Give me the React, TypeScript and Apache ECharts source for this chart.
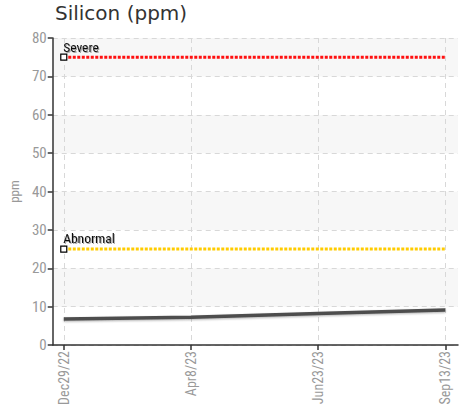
import React, { useEffect, useRef } from "react";
import * as echarts from "echarts";

const categories = ["Dec29/22", "Apr8/23", "Jun23/23", "Sep13/23"];
const siliconValues = [6.8, 7.2, 8.2, 9.1];
const severeLevel = 75;
const abnormalLevel = 25;
const yTicks = [0, 10, 20, 30, 40, 50, 60, 70, 80];

const cond = "'Roboto Condensed', 'DejaVu Sans Condensed', sans-serif";

export default function App() {
  const ref = useRef<HTMLDivElement>(null);
  useEffect(() => {
    if (!ref.current) return;
    const chart = echarts.init(ref.current, undefined, { renderer: "svg" });
    const idx = categories.map((_, i) => i);
    const last = categories.length - 1;
    const threshold = (name: string, level: number, color: string) => ({
      type: "line",
      name,
      data: [
        {
          value: [0, level],
          symbol: "rect",
          symbolSize: 6,
          itemStyle: { color: "#fff", borderColor: "#000", borderWidth: 1.2 },
          label: {
            show: true,
            formatter: name,
            position: [3, -14],
            align: "left",
            verticalAlign: "top",
            fontFamily: cond,
            fontSize: 13.5,
            color: "#111",
            textShadowColor: "rgba(0,0,0,0.35)",
            textShadowBlur: 1,
            textShadowOffsetX: 1,
            textShadowOffsetY: 1,
          },
        },
        { value: [last, level], symbol: "none" },
      ],
      lineStyle: { color, width: 3, type: [3, 1.5] },
      z: 3,
    });
    chart.setOption({
      animation: false,
      title: {
        text: "Silicon (ppm)",
        left: 55,
        top: 3,
        padding: 0,
        textStyle: { fontFamily: "'DejaVu Sans', Verdana, sans-serif", fontSize: 20, fontWeight: "normal", color: "#333" },
      },
      grid: { left: 52, right: 9, top: 38, bottom: 65 },
      xAxis: {
        type: "value",
        min: -0.087,
        max: 3.1,
        axisLine: { show: true, lineStyle: { color: "#333", width: 1.5 } },
        axisTick: { show: true, customValues: idx, length: 5, lineStyle: { color: "#333", width: 1.5 } },
        axisLabel: {
          customValues: idx,
          rotate: 90,
          formatter: (v: number) => categories[Math.round(v)] ?? "",
          fontFamily: cond,
          fontSize: 14,
          color: "#999",
          margin: 6,
        },
        splitLine: { show: true, lineStyle: { color: "#d8d8d8", type: [5, 4], width: 1 } },
      },
      yAxis: {
        type: "value",
        min: yTicks[0],
        max: yTicks[yTicks.length - 1],
        interval: 10,
        name: "ppm",
        nameLocation: "middle",
        nameGap: 24,
        nameTextStyle: { fontFamily: cond, fontSize: 13, color: "#999" },
        axisLine: { show: true, onZero: false, lineStyle: { color: "#333", width: 1.5 } },
        axisTick: { show: true, length: 5, lineStyle: { color: "#333", width: 1.5 } },
        axisLabel: { fontFamily: cond, fontSize: 15, color: "#999", margin: 6 },
        splitLine: { show: true, lineStyle: { color: "#d8d8d8", type: [5, 4], width: 1 } },
        splitArea: { show: true, areaStyle: { color: ["#ffffff", "#f7f7f7"] } },
      },
      series: [
        {
          type: "line",
          name: "Silicon",
          data: siliconValues.map((v, i) => [i, v]),
          symbol: "none",
          lineStyle: {
            color: "#4d4d4d",
            width: 3.5,
            shadowColor: "rgba(0,0,0,0.3)",
            shadowBlur: 2,
            shadowOffsetY: 1,
          },
          z: 4,
        },
        threshold("Severe", severeLevel, "#ff1010"),
        threshold("Abnormal", abnormalLevel, "#ffcc00"),
      ],
    });
    return () => chart.dispose();
  }, []);
  return <div ref={ref} style={{ width: 467, height: 410, position: "absolute", left: 0, top: 0 }} />;
}
